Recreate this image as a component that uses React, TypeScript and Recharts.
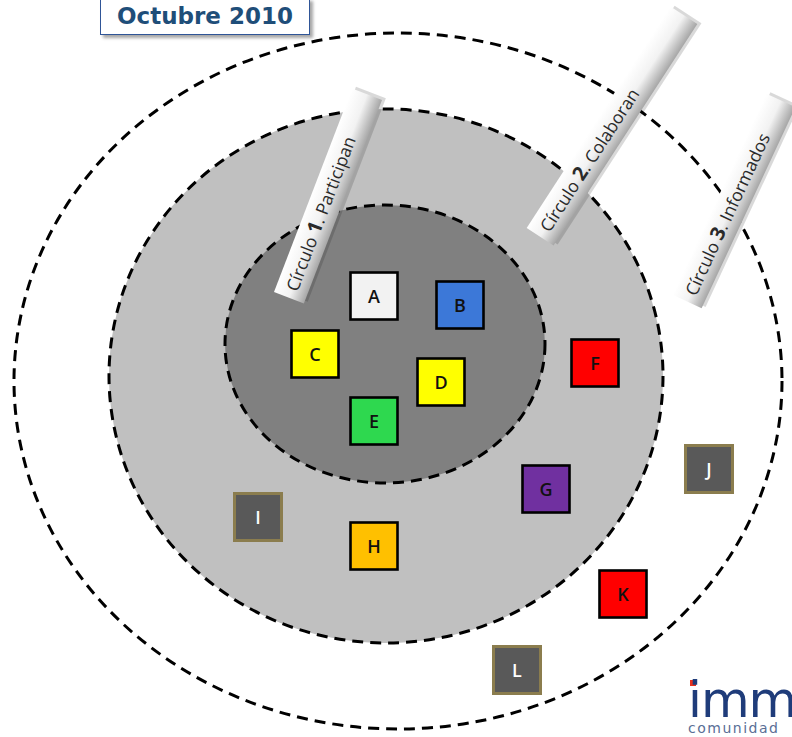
import React from 'react';
import { ScatterChart, Scatter, XAxis, YAxis } from 'recharts';

const W = 792;
const H = 737;

// rings (outer -> inner), in picture units
const ringNames = ['Círculo 3', 'Círculo 2', 'Círculo 1'];
const ringCx = [398, 386, 385];
const ringCy = [381, 376, 344];
const ringRx = [384, 277, 160];
const ringRy = [348, 267, 139];
const ringFill = ['#ffffff', '#c0c0c0', '#808080'];

// members
const letters = ['A', 'B', 'C', 'D', 'E', 'F', 'G', 'H', 'I', 'J', 'K', 'L'];
const memberX = [374, 460, 315, 441, 374, 595, 546, 374, 258, 709, 623, 517];
const memberY = [296, 305, 354, 382, 421, 363, 489, 546, 517, 469, 594, 670];
const memberColor = [
  '#f2f2f2', '#3c78d8', '#ffff00', '#ffff00', '#2ed84f', '#ff0000',
  '#7030a0', '#ffc000', '#595959', '#595959', '#ff0000', '#595959',
];

// banner labels
const bannerPre = ['Círculo ', 'Círculo ', 'Círculo '];
const bannerNum = ['1', '2', '3'];
const bannerPost = ['. Participan', '. Colaboran', '. Informados'];

const rings = ringNames.map((name, i) => ({
  name, x: ringCx[i], y: ringCy[i], rx: ringRx[i], ry: ringRy[i], fill: ringFill[i],
}));
const members = letters.map((l, i) => ({ l, x: memberX[i], y: memberY[i], color: memberColor[i] }));

// banner layout: centre, length, angle
const bannerLayout = [
  { x: 328, y: 196, len: 218, angle: -69 },
  { x: 612, y: 126, len: 264, angle: -57 },
  { x: 734, y: 201, len: 222, angle: -65 },
];
const banners = bannerLayout.map((b, i) => ({ ...b, pre: bannerPre[i], num: bannerNum[i], post: bannerPost[i] }));

const sx = W / W;
const sy = H / H;

const RingShape = (props: any) => {
  const { cx, cy, payload } = props;
  return (
    <ellipse
      cx={cx} cy={cy} rx={payload.rx * sx} ry={payload.ry * sy}
      fill={payload.fill} stroke="#000" strokeWidth={3} strokeDasharray="11 7"
    />
  );
};

const BannerShape = (props: any) => {
  const { cx, cy, payload } = props;
  const bw = 32;
  const L = payload.len;
  return (
    <g transform={`translate(${cx},${cy}) rotate(${payload.angle})`}>
      <rect x={-L / 2 + 3} y={-bw / 2 + 3} width={L} height={bw} fill="rgba(0,0,0,0.15)" />
      <rect x={-L / 2} y={-bw / 2} width={L} height={bw} fill="url(#bannerGrad)" />
      <text
        x={-L / 2 + 8} y={6}
        fontFamily="'Open Sans', sans-serif" fontSize={17.5} fill="#2a2a2a"
      >
        {payload.pre}
        <tspan fontWeight="bold" fontSize={20}>{payload.num}</tspan>
        {payload.post}
      </text>
    </g>
  );
};

const MemberShape = (props: any) => {
  const { cx, cy, payload } = props;
  const s = 47;
  const grey = payload.color === '#595959';
  return (
    <g>
      <rect
        x={cx - s / 2} y={cy - s / 2} width={s} height={s}
        fill={payload.color} stroke={grey ? '#8b7d4e' : '#000'} strokeWidth={grey ? 3 : 2.6}
      />
      <text
        x={cx} y={cy + 6.5} textAnchor="middle"
        fontFamily="'Open Sans', sans-serif" fontWeight={600} fontSize={18}
        fill={grey ? '#ffffff' : '#111'}
      >
        {payload.l}
      </text>
    </g>
  );
};

export default function App() {
  return (
    <div style={{ position: 'relative', width: W, height: H, background: '#fff', overflow: 'hidden' }}>
      <style>{'body{margin:0}'}</style>
      <ScatterChart width={W} height={H} margin={{ top: 0, right: 0, bottom: 0, left: 0 }}>
        <defs>
          <linearGradient id="bannerGrad" x1="0" y1="0" x2="0" y2="1">
            <stop offset="0%" stopColor="#ffffff" />
            <stop offset="50%" stopColor="#f2f2f2" />
            <stop offset="100%" stopColor="#a6a6a6" />
          </linearGradient>
        </defs>
        <XAxis type="number" dataKey="x" domain={[0, W]} hide />
        <YAxis type="number" dataKey="y" domain={[0, H]} reversed hide />
        <Scatter data={rings} shape={RingShape} isAnimationActive={false} />
        <Scatter data={banners} shape={BannerShape} isAnimationActive={false} />
        <Scatter data={members} shape={MemberShape} isAnimationActive={false} />
      </ScatterChart>

      <div
        style={{
          position: 'absolute', left: 100, top: -2, width: 208, height: 35,
          border: '1.5px solid #2f5597', background: '#fff',
          boxShadow: '3px 3px 3px rgba(0,0,0,0.35)',
          fontFamily: "'DejaVu Sans', sans-serif", fontWeight: 'bold', fontSize: 23,
          color: '#1f4e79', textAlign: 'center', lineHeight: '35px',
        }}
      >
        Octubre 2010
      </div>

      <div style={{ position: 'absolute', left: 688, top: 678, width: 120, height: 59 }}>
        <div style={{ position: 'absolute', left: 2, top: 2, width: 6, height: 6, background: '#e8321e' }} />
        <div
          style={{
            position: 'absolute', left: 0, top: 2, height: 40, fontFamily: "'DejaVu Sans', sans-serif",
            fontSize: 50, color: '#1f3c7a', letterSpacing: -1, lineHeight: '40px',
          }}
        >
          imm
        </div>
        <div
          style={{
            position: 'absolute', left: 0, top: 42, height: 16, fontFamily: "'DejaVu Sans', sans-serif",
            fontSize: 14, color: '#5a6e96', letterSpacing: 1.5, lineHeight: '16px',
          }}
        >
          comunidad
        </div>
      </div>
    </div>
  );
}
